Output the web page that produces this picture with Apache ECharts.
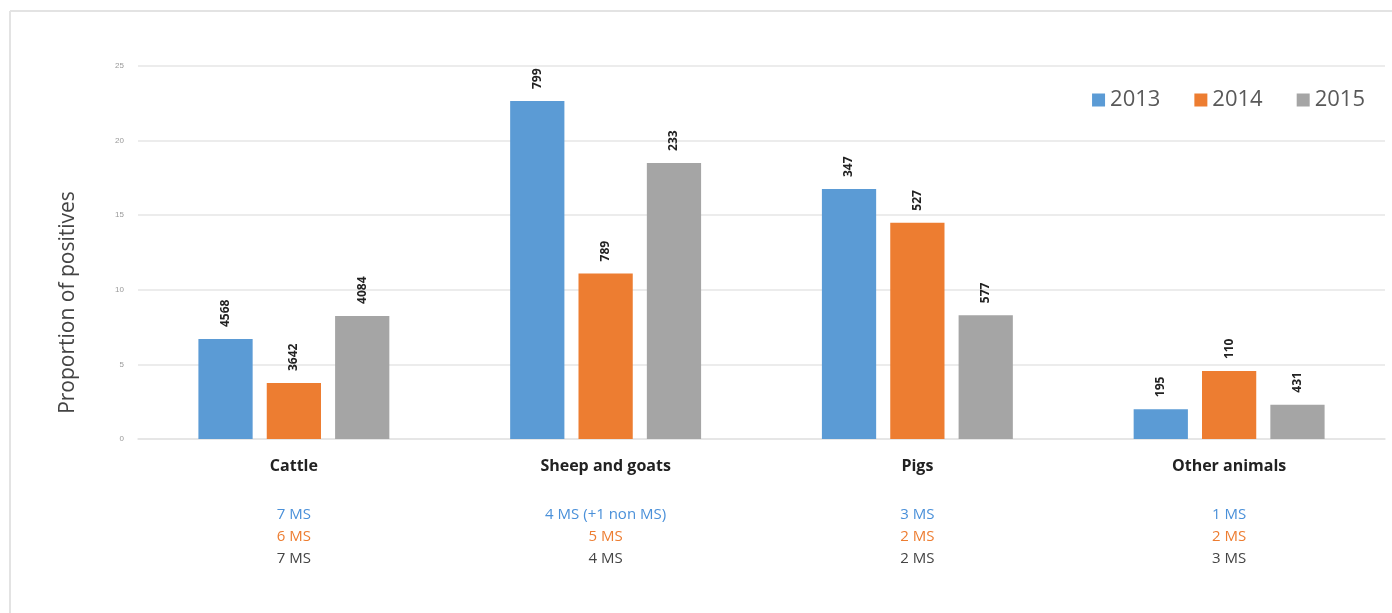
<!DOCTYPE html>
<html>
<head>
<meta charset="utf-8">
<script src="https://cdn.jsdelivr.net/npm/echarts@6/dist/echarts.min.js"></script>
<style>
    html, body { margin: 0; padding: 0; background: #fff; }
    #main { width: 1392px; height: 613px; }
</style>
</head>
<body>
<div id="main"></div>
<script>
var categories = ['Cattle', 'Sheep and goats', 'Pigs', 'Other animals'];
var years = ['2013', '2014', '2015'];
var values2013 = [6.7, 22.65, 16.75, 2.0];
var values2014 = [3.75, 11.1, 14.5, 4.55];
var values2015 = [8.25, 18.5, 8.3, 2.3];
var counts2013 = [4568, 799, 347, 195];
var counts2014 = [3642, 789, 527, 110];
var counts2015 = [4084, 233, 577, 431];
var ms2013 = ['7 MS', '4 MS (+1 non MS)', '3 MS', '1 MS'];
var ms2014 = ['6 MS', '5 MS', '2 MS', '2 MS'];
var ms2015 = ['7 MS', '4 MS', '2 MS', '3 MS'];

var colors = ['#5B9BD5', '#ED7D31', '#A5A5A5'];

function makeSeries(name, values, counts) {
    return {
        name: name,
        type: 'bar',
        barWidth: '17.4%',
        barGap: '26%',
        data: values,
        label: {
            show: true,
            position: 'top',
            rotate: 90,
            distance: 12,
            align: 'left',
            verticalAlign: 'middle',
            fontFamily: 'Open Sans',
            fontSize: 12,
            fontWeight: 'bold',
            color: '#222',
            formatter: function (p) {
                return counts[p.dataIndex];
            }
        }
    };
}

var myChart = echarts.init(document.getElementById('main'));
var option = {
    color: colors,
    animation: false,
    graphic: [
        { type: 'line', shape: { x1: 10, y1: 11, x2: 1392, y2: 11 }, style: { stroke: '#e3e3e3', lineWidth: 2 } },
        { type: 'line', shape: { x1: 10, y1: 11, x2: 10, y2: 613 }, style: { stroke: '#e3e3e3', lineWidth: 2 } }
    ],
    legend: {
        data: years,
        top: 84,
        right: 22,
        itemWidth: 13,
        itemHeight: 13,
        itemGap: 34,
        icon: 'rect',
        textStyle: { fontFamily: 'Open Sans', fontSize: 22, color: '#595959' }
    },
    grid: {
        left: 138,
        right: 7,
        top: 66,
        bottom: 174
    },
    xAxis: {
        type: 'category',
        data: categories,
        axisTick: { show: false },
        axisLine: { lineStyle: { color: '#e3e3e3', width: 1.5 } },
        axisLabel: {
            margin: 16,
            interval: 0,
            formatter: function (v, i) {
                return '{n|' + v + '}\n{s| }\n{a|' + ms2013[i] + '}\n{b|' + ms2014[i] + '}\n{c|' + ms2015[i] + '}';
            },
            rich: {
                n: { fontFamily: 'Open Sans', fontSize: 16, fontWeight: 'bold', color: '#222', lineHeight: 22 },
                s: { fontSize: 10, lineHeight: 27 },
                a: { fontFamily: 'Open Sans', fontSize: 15, fontWeight: 500, color: '#4A90D9', lineHeight: 22 },
                b: { fontFamily: 'Open Sans', fontSize: 15, fontWeight: 500, color: '#ED7D31', lineHeight: 22 },
                c: { fontFamily: 'Open Sans', fontSize: 15, color: '#444', lineHeight: 22 }
            }
        }
    },
    yAxis: {
        type: 'value',
        min: 0,
        max: 25,
        interval: 5,
        name: 'Proportion of positives',
        nameLocation: 'middle',
        nameGap: 59,
        nameTextStyle: { fontFamily: 'Open Sans', fontSize: 21, color: '#444', padding: [0, 100, 0, 0] },
        axisLine: { show: false },
        axisTick: { show: false },
        axisLabel: { margin: 14, fontSize: 8, color: '#999' },
        splitLine: { lineStyle: { color: '#e6e6e6', width: 1.5 } }
    },
    series: [
        makeSeries('2013', values2013, counts2013),
        makeSeries('2014', values2014, counts2014),
        makeSeries('2015', values2015, counts2015)
    ]
};
myChart.setOption(option);
</script>
</body>
</html>
